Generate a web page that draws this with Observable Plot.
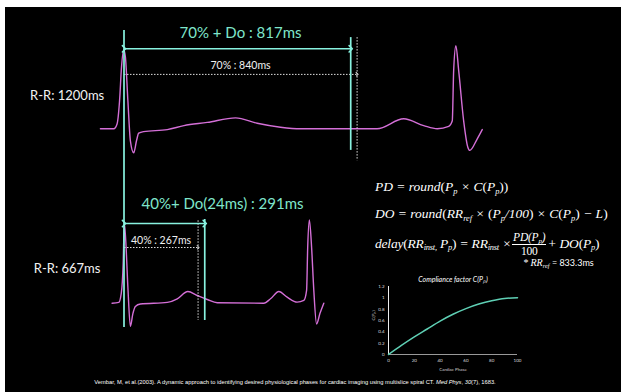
<!DOCTYPE html>
<html>
<head>
<meta charset="utf-8">
<script src="https://cdn.jsdelivr.net/npm/d3@7"></script>
<script src="https://cdn.jsdelivr.net/npm/@observablehq/plot@0.6"></script>
<style>
  html, body { margin: 0; padding: 0; background: #fff; }
  #wrap { position: relative; width: 621px; height: 392px; overflow: hidden; background: #fff; }
  #bg { position: absolute; left: 5px; top: 7px; right: 0; bottom: 0; background: #000; }
  #main, #small { position: absolute; }
  #main { left: 0; top: 0; }
  #small { left: 358px; top: 266px; }
  .f { position: absolute; color: #fff; font-family: "Liberation Serif", "DejaVu Serif", serif; font-style: italic; font-size: 13.5px; white-space: nowrap; line-height: 16px; }
  .f sub { font-size: 0.62em; vertical-align: -0.3em; line-height: 0; }
  .frac { display: inline-block; vertical-align: middle; text-align: center; line-height: 11px; font-size: 11.5px; margin: 0 1px; }
  .frac span { display: block; }
  .frac .num { border-bottom: 1px solid #fff; padding: 0 1px 1px 1px; }
  .frac .den { font-style: normal; padding-top: 1px; }
  .up { font-style: normal; }
  #foot { position: absolute; left: 0; width: 590px; top: 379px; text-align: center; color: #fff; font-family: "Liberation Sans", sans-serif; font-size: 5.75px; white-space: nowrap; }
</style>
</head>
<body>
<div id="wrap">
  <div id="bg"></div>
  <div id="main"></div>
  <div id="small"></div>
  <div class="f" style="left:375px; top:179px;">PD = round<span class="up">(</span>P<sub>p</sub> × C<span class="up">(</span>P<sub>p</sub><span class="up">))</span></div>
  <div class="f" style="left:375px; top:206px;">DO = round<span class="up">(</span>RR<sub>ref</sub> × <span class="up">(</span>P<sub>p</sub>/100<span class="up">)</span> × C<span class="up">(</span>P<sub>p</sub><span class="up">)</span> − L<span class="up">)</span></div>
  <div class="f" style="left:375px; top:232px; letter-spacing:-0.2px;">delay<span class="up">(</span>RR<sub>inst,</sub> P<sub>p</sub><span class="up">)</span> = RR<sub>inst</sub> ×<span class="frac"><span class="num">PD(P<sub>p</sub>)</span><span class="den">100</span></span>+ DO<span class="up">(</span>P<sub>p</sub><span class="up">)</span></div>
  <div class="f" style="left:523px; top:256px; font-size:10px; line-height:14px;">* RR<sub>ref</sub> <span style="font-style:normal;font-family:Lato,sans-serif;font-size:9px;">= 833.3ms</span></div>
  <div id="foot">Vembar, M, et al.(2003). A dynamic approach to identifying desired physiological phases for cardiac imaging using multislice spiral CT. <i>Med Phys</i>, <i>30</i>(7), 1683.</div>
</div>
<script>
// ---------- data ----------
const rowLabels = ["R-R: 1200ms", "R-R: 667ms"];
const rrMs = [1200, 667];
const phasePct = [70, 40];
const phaseMs = [840, 267];
const delayMs = [817, 291];
const delayTitles = ["70% + Do : 817ms", "40%+ Do(24ms) : 291ms"];
const phaseTitles = ["70% : 840ms", "40% : 267ms"];

// ECG trace, R-R 1200 ms (time ms, amplitude mV relative to baseline)
const topT = [-85, -37, -25, -16, -9, -1, 5, 14, 23, 35, 45, 53, 71, 156, 216, 300, 402, 480, 564, 636, 800, 912, 1008, 1080, 1129, 1170, 1183, 1188, 1196, 1206, 1224, 1239, 1246, 1273, 1291];
const topV = [0, 0, 0.06, 0.35, 0.77, 0.99, 0.9, 0.35, -0.15, -0.3, -0.15, -0.055, -0.035, -0.01, 0.04, 0.08, 0.137, 0.07, 0.02, 0, 0, 0, 0.125, 0.04, 0, 0.03, 0.1, 0.73, 1.04, 0.73, 0.1, -0.23, -0.27, -0.125, -0.01];
// ECG trace, R-R 667 ms
const botT = [-43, -19, -10, -3, 1, 6, 14, 23, 32, 41, 59, 156, 192, 230, 264, 300, 336, 504, 528, 558, 588, 624, 648, 658, 662, 668, 676, 684, 694, 706, 720];
const botV = [0, 0.01, 0.12, 0.49, 1.0, 0.8, 0.2, -0.29, -0.13, -0.04, -0.01, 0.01, 0.055, 0.146, 0.096, 0.046, 0.005, 0, 0.055, 0.146, 0.075, 0.013, 0.034, 0.16, 0.7, 1.04, 0.7, 0.16, -0.26, -0.13, 0];

// Compliance factor C(Pp)
const cardiacPhase = [0, 10, 20, 30, 40, 50, 60, 70, 80, 90, 100];
const compliance = [0, 0.16, 0.31, 0.45, 0.59, 0.71, 0.81, 0.89, 0.95, 0.99, 1.0];
const phaseTicks = [0, 20, 40, 60, 80, 100];
const cTicks = [0, 0.2, 0.4, 0.6, 0.8, 1, 1.2];

// ---------- layout ----------
const W = 621, H = 392;
const x0 = 123.5, pxPerMs = 0.2775;      // R peak position and time scale
const y0 = 128.3, pxPerMv = 80;          // top baseline and amplitude scale
const magenta = "#d46fd7", cyanLine = "#88f2e0", cyanText = "#7fe6cc";
const rows = [
  {offset: 0,     titleT: 420, titleV: 1.19,  arrowV: 1.0,   dotV: 0.68,  dotTextV: 0.79, cTop: 1.14,  cBot: -0.27,  dTop: 1.14, dBot: -0.40, labelV: 0.416},
  {offset: -2.18, titleT: 355, titleV: 1.234, arrowV: 0.996, dotV: 0.696, dotTextV: 0.78, cTop: 1.046, cBot: -0.216, dTop: 1.03, dBot: -0.216, labelV: 0.434}
].map((r, i) => ({...r, label: rowLabels[i], rr: rrMs[i], pct: phasePct[i], phase: phaseMs[i], delay: delayMs[i], title: delayTitles[i], phaseTitle: phaseTitles[i]}));

const topTrace = topT.map((t, i) => ({t, v: topV[i] + rows[0].offset}));
const botTrace = botT.map((t, i) => ({t, v: botV[i] + rows[1].offset}));

const main = Plot.plot({
  width: W, height: H, margin: 0,
  style: {background: "transparent", color: "white"},
  x: {domain: [-x0 / pxPerMs, (W - x0) / pxPerMs], axis: null},
  y: {domain: [-(H - y0) / pxPerMv, y0 / pxPerMv], axis: null},
  marks: [
    Plot.line(topTrace, {x: "t", y: "v", stroke: magenta, strokeWidth: 1.4, curve: "monotone-x"}),
    Plot.line(botTrace, {x: "t", y: "v", stroke: magenta, strokeWidth: 1.4, curve: "monotone-x"}),
    // white dotted phase markers
    Plot.ruleX(rows, {x: "phase", y1: d => d.offset + d.dTop, y2: d => d.offset + d.dBot, stroke: "#ddd", strokeWidth: 1, strokeDasharray: "1.5,1.5"}),
    Plot.link(rows, {x1: 0, x2: "phase", y1: d => d.offset + d.dotV, y2: d => d.offset + d.dotV, stroke: "#ddd", strokeWidth: 1, strokeDasharray: "1.5,1.5", markerEnd: "arrow"}),
    Plot.text(rows, {x: d => d.phase / 2, y: d => d.offset + d.dotTextV, text: "phaseTitle", fill: "#f0f0f0", fontSize: 10.5, fontFamily: "Lato"}),
    // cyan delay markers
    Plot.ruleX([0], {y1: rows[0].offset + 1.229, y2: rows[1].offset - 0.304, stroke: cyanLine, strokeWidth: 1.7}),
    Plot.ruleX(rows, {x: "delay", y1: d => d.offset + d.cTop, y2: d => d.offset + d.cBot, stroke: cyanLine, strokeWidth: 1.7}),
    Plot.link(rows, {x1: 0, x2: "delay", y1: d => d.offset + d.arrowV, y2: d => d.offset + d.arrowV, stroke: cyanLine, strokeWidth: 1.6, marker: "arrow"}),
    Plot.text(rows, {x: "titleT", y: d => d.offset + d.titleV, text: "title", fill: cyanText, fontSize: 15, fontFamily: "Lato"}),
    // row labels
    Plot.text(rows, {x: -205, y: d => d.offset + d.labelV, text: "label", fill: "#f2f2f2", fontSize: 13, fontFamily: "Lato"})
  ]
});
document.getElementById("main").appendChild(main);

const comp = cardiacPhase.map((p, i) => ({p, c: compliance[i]}));
const small = Plot.plot({
  width: 170, height: 112,
  marginLeft: 30, marginRight: 11, marginTop: 20, marginBottom: 24,
  style: {background: "transparent", color: "#ddd", fontFamily: "Lato"},
  x: {domain: [0, 100], axis: null},
  y: {domain: [0, 1.2], axis: null},
  marks: [
    Plot.axisX(phaseTicks, {tickSize: 0, tickPadding: 4, fontSize: 4.5, fill: "#ddd", label: null}),
    Plot.axisY(cTicks, {tickSize: 0, tickPadding: 4, fontSize: 4.5, fill: "#ddd", label: null, tickFormat: d => String(d)}),
    Plot.ruleY([0], {stroke: "#999", strokeWidth: 1.2}),
    Plot.ruleX([0], {y1: 0, y2: 1.2, stroke: "#eee", strokeWidth: 1}),
    Plot.line(comp, {x: "p", y: "c", stroke: "#5fd0b5", strokeWidth: 1.5, curve: "monotone-x"}),
    Plot.text(["Compliance factor C(Pₚ)"], {frameAnchor: "top", dy: -9, text: d => d, fill: "#fff", fontSize: 7, fontStyle: "italic"}),
    Plot.text(["Cardiac Phase"], {frameAnchor: "bottom", dy: 16, text: d => d, fill: "#ccc", fontSize: 4.5}),
    Plot.text(["C(Pₚ)"], {frameAnchor: "left", dx: -15, rotate: -90, text: d => d, fill: "#ccc", fontSize: 4.5})
  ]
});
document.getElementById("small").appendChild(small);
</script>
</body>
</html>
